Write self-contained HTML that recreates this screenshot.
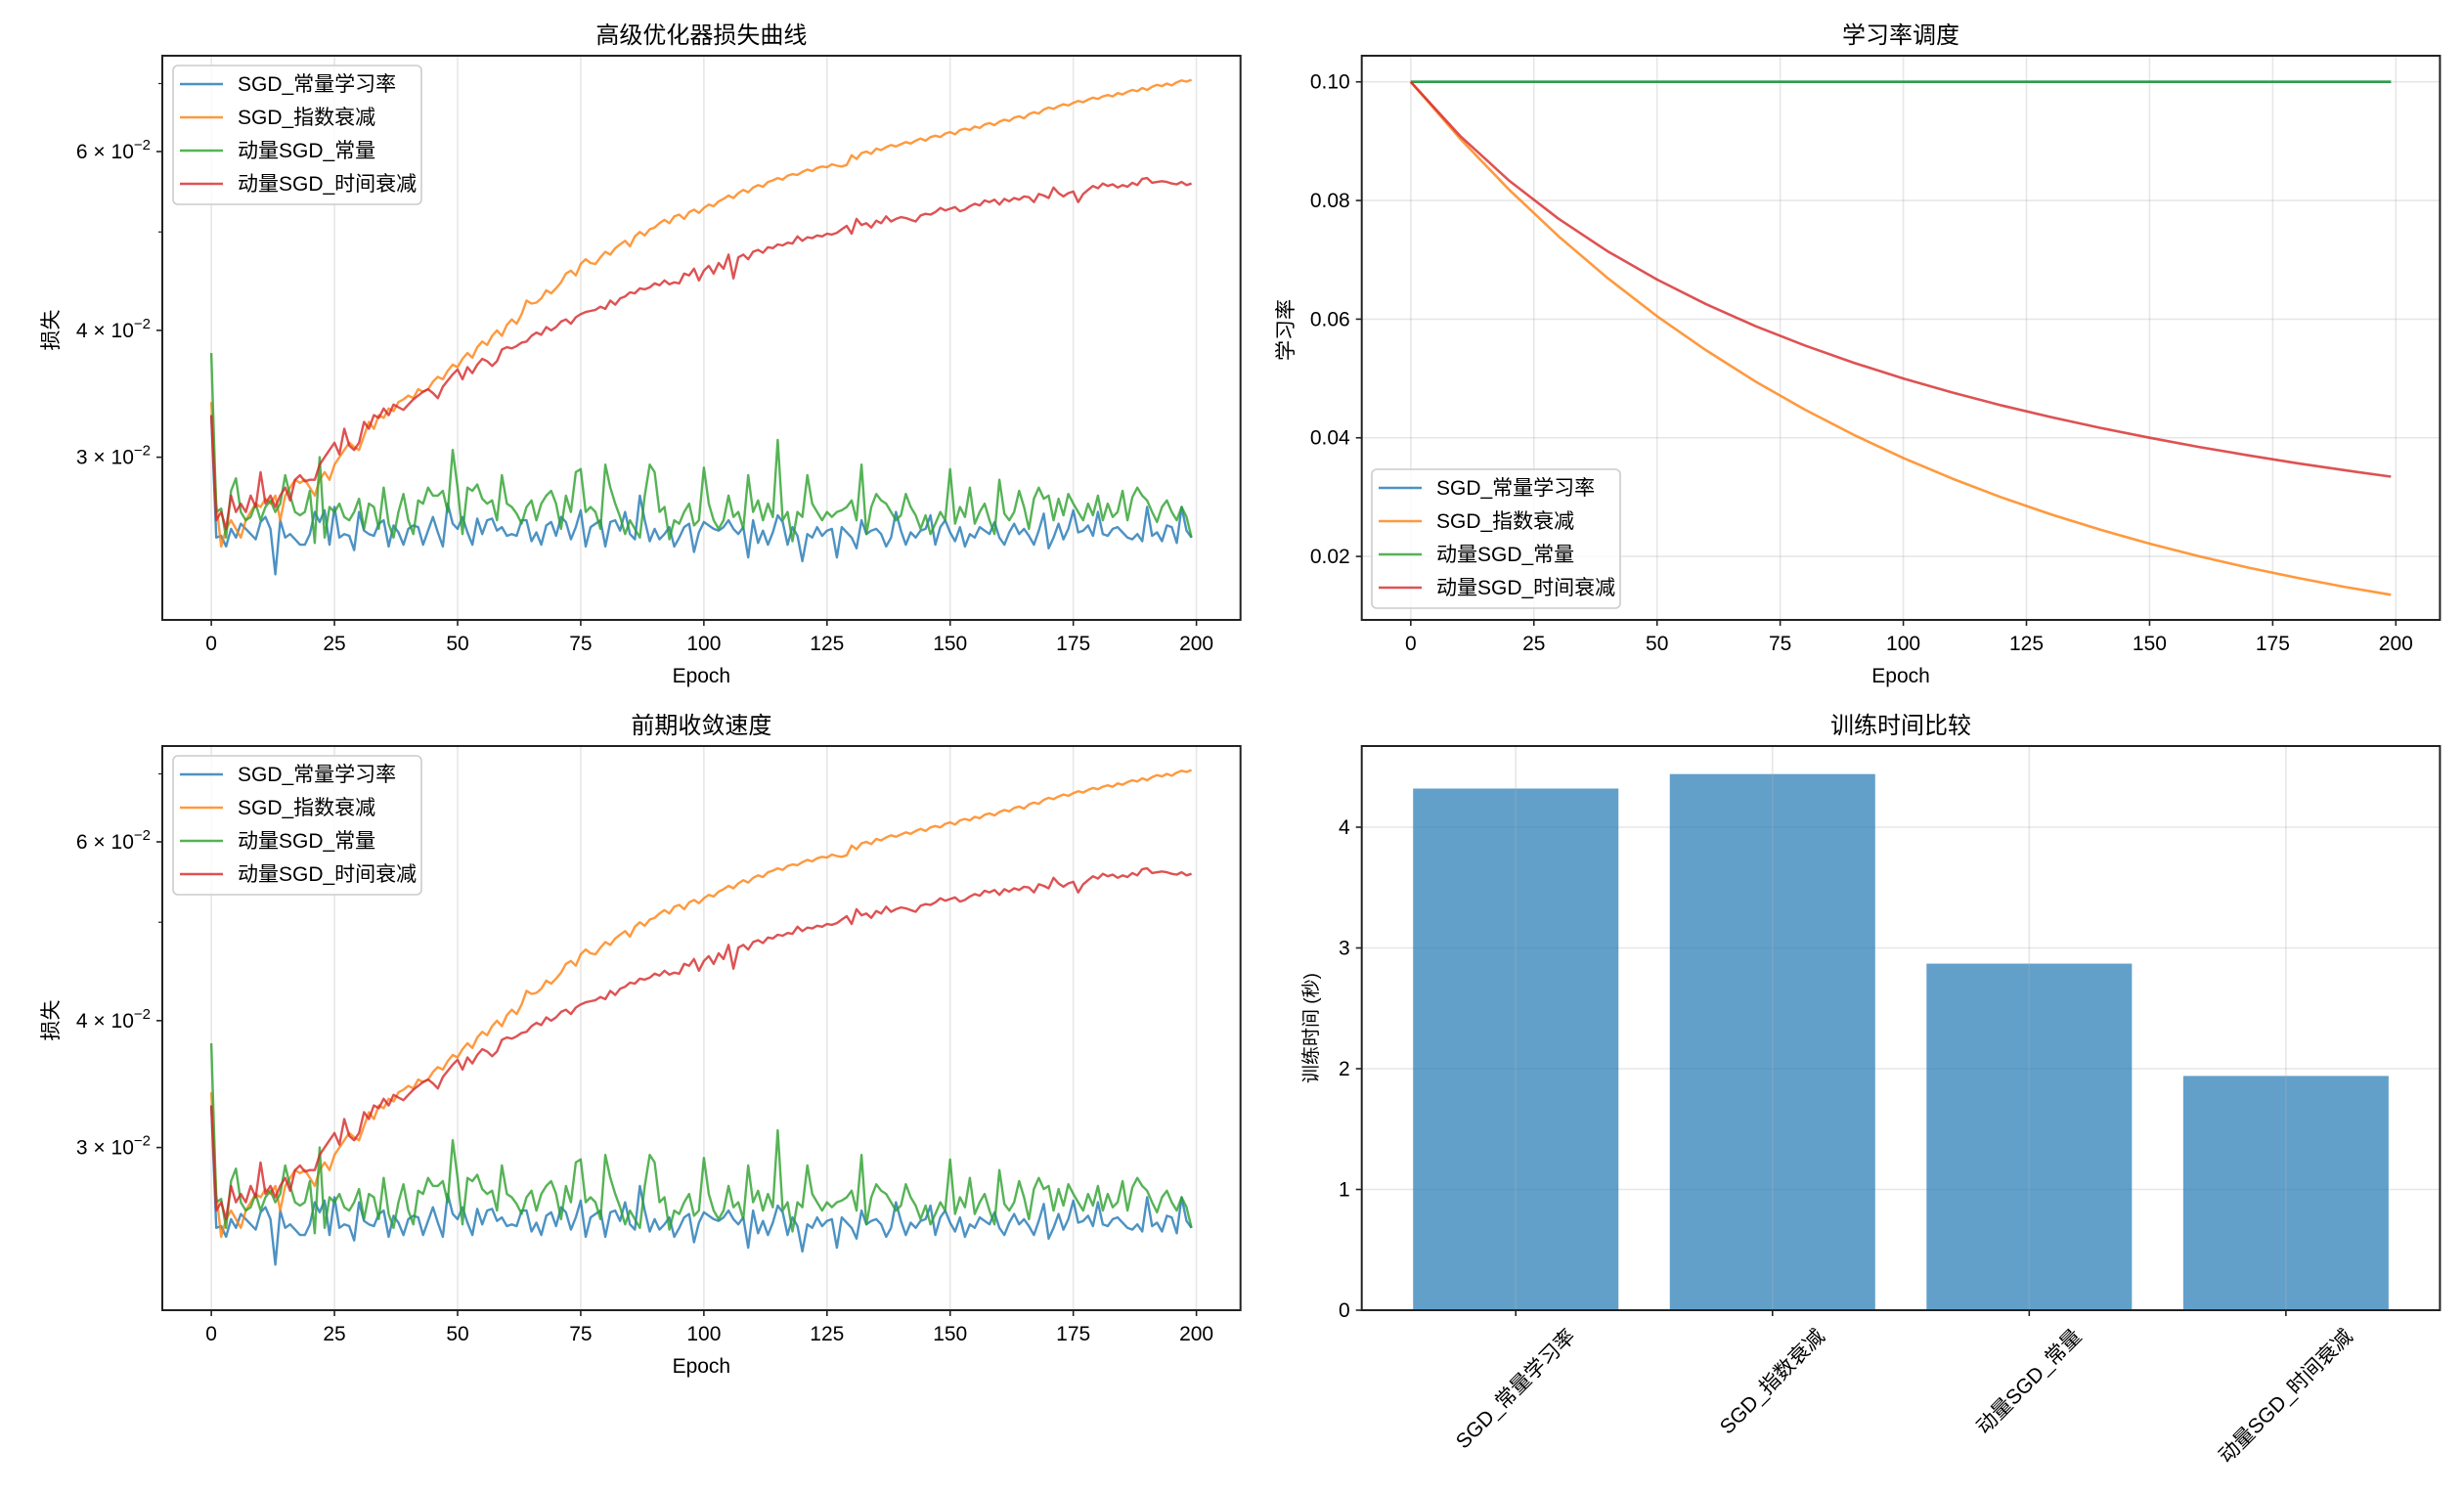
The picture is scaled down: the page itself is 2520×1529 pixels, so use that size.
<!DOCTYPE html>
<html><head><meta charset="utf-8">
<style>
html,body{margin:0;padding:0;background:#fff;}
svg text{font-family:"Liberation Sans","Noto Sans CJK SC",sans-serif;fill:#000;}
</style></head>
<body>
<svg id="fig" xmlns="http://www.w3.org/2000/svg" width="2520" height="1524" viewBox="0 0 2520 1524"></svg>
<script>
// ---- data ----
const epochTicks = [0,25,50,75,100,125,150,175,200];
const seriesNames = ["SGD_常量学习率","SGD_指数衰减","动量SGD_常量","动量SGD_时间衰减"];
const colors = ["#1f77b4","#ff7f0e","#2ca02c","#d62728"];
// loss values (x1e-3), epoch 0..199
const lossSgdConst = [33.0,25.0,25.1,24.5,25.5,25.0,25.8,25.5,25.2,24.9,
25.9,26.2,25.5,23.0,26.0,25.0,25.2,24.9,24.6,24.6,
25.2,26.5,25.9,26.6,24.6,26.8,25.0,25.2,25.1,24.3,
26.5,25.4,25.2,25.1,25.8,26.0,24.5,25.7,25.3,24.6,
25.5,25.7,25.6,24.6,25.4,26.2,25.3,24.5,27.0,25.8,
25.5,26.2,25.3,24.6,26.1,25.2,26.0,26.1,25.4,25.6,
25.1,25.2,25.1,26.0,26.0,24.8,25.3,24.6,25.7,25.9,
25.1,26.2,25.9,24.9,25.6,26.6,24.5,25.6,25.8,26.0,
24.5,25.9,26.0,25.4,26.5,25.2,24.9,27.5,26.0,24.8,
25.5,24.9,25.2,25.6,24.5,25.0,25.6,25.8,24.2,25.3,
25.9,25.7,25.5,25.4,25.6,26.0,25.5,25.2,25.6,23.9,
26.0,24.7,25.4,24.6,25.3,26.3,25.9,24.6,25.6,25.1,
23.7,25.2,25.0,25.6,25.1,25.4,25.5,23.9,25.6,25.3,
25.0,24.4,26.0,25.2,25.4,25.5,25.2,24.5,25.0,26.5,
25.4,24.6,25.3,25.0,25.4,25.5,26.3,24.6,25.6,26.0,
25.3,24.8,25.6,24.5,25.2,25.0,25.6,25.4,25.2,25.9,
25.0,24.6,25.3,25.8,25.2,25.5,25.1,24.6,25.4,26.4,
24.4,25.0,25.8,24.9,25.5,26.6,25.3,25.4,25.7,25.1,
26.5,25.2,25.1,25.5,25.6,25.3,25.0,24.9,25.2,24.8,
26.8,25.1,25.3,24.8,25.7,25.6,24.7,26.8,25.4,25.0];
const lossSgdExp = [34.0,27.0,24.5,25.5,26.0,25.5,25.0,26.0,26.5,27.0,
26.8,27.3,27.0,27.5,26.0,27.5,28.0,28.5,28.3,28.5,
28.0,27.5,28.5,29.0,28.5,29.5,30.0,30.5,31.0,30.7,
30.5,31.5,32.5,32.0,33.0,32.8,33.5,33.3,34.0,34.2,
34.5,34.3,35.0,34.8,35.0,35.6,36.0,35.8,36.5,37.0,
36.8,37.5,38.0,37.6,38.5,39.0,38.7,39.5,40.0,39.5,
40.5,41.0,40.6,41.5,42.8,42.5,42.6,43.0,43.8,43.5,
44.0,44.6,45.5,45.8,45.3,46.5,47.0,46.6,46.5,47.2,
47.8,47.5,48.2,48.6,49.0,48.4,49.5,50.0,49.6,50.3,
50.5,51.0,51.4,51.0,51.8,52.0,51.5,52.3,52.6,52.2,
52.8,53.2,53.0,53.6,53.9,54.3,54.0,54.6,55.0,54.7,
55.3,55.6,55.4,56.0,56.2,56.5,56.3,56.8,57.0,56.9,
57.3,57.6,57.4,57.8,58.0,57.9,58.3,58.1,58.0,58.2,
59.5,59.0,59.8,60.0,59.7,60.4,60.2,60.6,60.9,60.7,
61.0,61.3,61.1,61.5,61.8,61.5,62.0,62.2,62.0,62.5,
62.7,62.4,63.0,63.2,63.0,63.5,63.3,63.8,64.0,63.7,
64.2,64.5,64.3,64.8,65.0,64.7,65.3,65.6,65.4,66.0,
66.3,66.1,66.5,66.8,66.6,67.0,67.3,67.1,67.5,67.8,
67.6,68.0,68.2,68.0,68.5,68.3,68.7,69.0,68.8,69.3,
69.0,69.5,69.8,69.6,70.0,69.7,70.2,70.5,70.3,70.6];
const lossMomConst = [38.0,26.5,26.7,25.0,27.8,28.6,26.5,26.0,26.2,27.0,
26.0,26.8,27.2,26.5,27.0,28.8,27.5,26.5,26.3,26.5,
27.8,24.7,30.0,25.0,26.8,26.5,27.0,26.2,26.0,26.5,
27.3,25.5,27.0,26.8,25.5,28.0,25.8,25.0,26.5,27.6,
26.0,25.2,27.2,27.0,28.0,27.5,27.5,27.8,26.5,30.5,
28.0,25.2,28.0,27.8,28.2,27.3,27.0,27.2,26.0,28.8,
27.0,26.8,26.4,25.8,26.8,27.2,26.0,27.0,27.5,27.8,
27.0,25.5,27.5,26.5,29.0,29.2,26.5,26.8,26.5,25.5,
29.5,28.0,27.0,26.2,25.2,26.0,25.5,25.0,27.5,29.5,
29.0,26.5,26.8,24.9,26.0,25.8,26.5,27.0,25.7,26.0,
29.3,27.0,26.0,25.5,26.0,27.5,26.2,26.5,25.5,28.8,
26.5,27.2,26.0,27.0,26.2,31.2,26.0,26.5,24.8,26.5,
26.2,28.8,27.0,26.5,26.0,26.5,26.2,26.5,26.6,26.8,
27.2,26.0,29.5,25.2,26.8,27.6,27.2,27.0,26.5,26.0,
26.3,27.6,26.8,26.3,25.5,26.3,25.2,25.8,26.5,26.0,
29.2,25.8,26.8,26.2,28.0,25.8,26.5,27.0,26.0,25.2,
28.5,26.4,26.0,26.5,27.8,26.8,25.5,27.3,28.0,27.3,
27.5,26.0,27.3,26.3,27.6,27.0,26.5,26.0,27.0,26.3,
27.5,26.0,27.0,26.2,26.5,27.8,26.0,27.4,28.0,27.5,
27.2,26.5,25.9,26.8,27.2,26.5,26.0,26.8,26.2,25.0];
const lossMomTime = [33.0,26.0,26.5,25.5,27.5,26.5,27.0,26.5,27.5,26.8,
29.0,27.0,27.5,26.8,27.5,28.0,27.2,28.5,28.8,28.4,
28.5,28.5,29.5,30.0,30.5,31.0,30.2,32.0,30.8,30.5,
31.0,32.5,32.0,33.0,32.8,33.5,33.0,33.8,33.6,33.4,
33.8,34.2,34.5,34.8,35.0,34.7,34.3,35.2,35.7,36.2,
36.6,35.8,36.8,36.3,37.0,37.5,37.3,36.9,37.3,38.3,
38.5,38.4,38.6,38.9,39.0,39.5,39.8,39.6,40.3,40.0,
40.3,40.8,41.0,40.6,41.2,41.5,41.7,41.8,41.9,42.2,
42.0,42.8,42.4,43.0,43.2,43.6,43.5,44.0,43.9,44.1,
44.5,44.3,44.8,44.4,44.6,44.5,45.5,45.3,46.0,44.8,
45.8,46.3,45.5,46.6,46.0,47.5,45.0,47.2,47.5,47.0,
47.8,48.0,47.7,48.3,48.2,48.6,48.5,48.8,48.7,49.5,
49.0,49.4,49.3,49.6,49.5,49.8,49.7,49.9,50.3,50.7,
49.8,51.5,50.8,51.0,50.5,51.3,51.0,51.8,51.2,51.5,
51.7,51.6,51.4,51.2,51.9,52.1,52.0,52.3,52.8,52.5,
52.7,52.9,52.4,52.6,53.0,53.3,53.1,53.7,53.5,53.8,
53.2,53.9,53.6,54.0,53.8,54.2,54.1,53.5,54.5,54.3,
54.0,55.3,54.6,54.2,54.6,54.8,53.5,54.5,55.0,55.5,
55.2,55.8,55.5,55.7,55.3,55.6,55.4,55.9,55.6,56.4,
56.5,55.9,56.0,56.1,56.0,55.8,55.7,56.0,55.6,55.8];
const lossTickVals = [0.03,0.04,0.06];
const lossTickMant = ["3","4","6"];
const lossMinorVals = [0.05,0.07];
// learning rate schedule sampled every 10 epochs
const lrEpochs = [0,10,20,30,40,50,60,70,80,90,100,110,120,130,140,150,160,170,180,190,199];
const lrConst = [0.1,0.1,0.1,0.1,0.1,0.1,0.1,0.1,0.1,0.1,0.1,0.1,0.1,0.1,0.1,0.1,0.1,0.1,0.1,0.1,0.1];
const lrExp = [0.1,0.09044,0.08179,0.07397,0.0669,0.0605,0.05472,0.04948,0.04475,0.04047,0.0366,0.0331,0.02994,0.02708,0.02449,0.02215,0.02003,0.01811,0.01638,0.01481,0.01353];
const lrMomConst = [0.1,0.1,0.1,0.1,0.1,0.1,0.1,0.1,0.1,0.1,0.1,0.1,0.1,0.1,0.1,0.1,0.1,0.1,0.1,0.1,0.1];
const lrTime = [0.1,0.09091,0.08333,0.07692,0.07143,0.06667,0.0625,0.05882,0.05556,0.05263,0.05,0.04762,0.04545,0.04348,0.04167,0.04,0.03846,0.03704,0.03571,0.03448,0.03344];
const lrTicks = [0.02,0.04,0.06,0.08,0.10];
const lrTickLabels = ["0.02","0.04","0.06","0.08","0.10"];
const barCats = ["SGD_常量学习率","SGD_指数衰减","动量SGD_常量","动量SGD_时间衰减"];
const barVals = [4.32,4.44,2.87,1.94];
const barTicks = [0,1,2,3,4];

// ---- drawing ----
const NS="http://www.w3.org/2000/svg";
const svg=document.getElementById('fig');
function mk(tag,attrs,parent,text){const e=document.createElementNS(NS,tag);for(const k in attrs)e.setAttribute(k,attrs[k]);if(text!==undefined)e.textContent=text;(parent||svg).appendChild(e);return e;}

const AX_W=1102.7, AX_H=577, FS=21;
function epochX(x0){return e=>x0+(e+9.95)/218.9*AX_W;}

function frame(g,x0,y0){
  const r=mk('rect',{x:x0,y:y0,width:AX_W,height:AX_H,fill:'none',stroke:'#222','stroke-width':2},g);
  
  
}
function title(g,cx,y,txt){
  const t=mk('text',{x:cx,y:y,'text-anchor':'middle','font-size':24},g,txt);
  
  
}
function xEpochAxis(g,x0,y0,X){
  for(const e of epochTicks){
    const x=X(e);
    const gl=mk('line',{x1:x,x2:x,y1:y0,y2:y0+AX_H,stroke:'#b0b0b0','stroke-opacity':0.3,'stroke-width':1.6},g);
    
    
    mk('line',{x1:x,x2:x,y1:y0+AX_H,y2:y0+AX_H+6,stroke:'#222','stroke-width':1.6},g);
    const t=mk('text',{x:x,y:y0+AX_H+31,'text-anchor':'middle','font-size':FS},g,String(e));
    
    
  }
  const xl=mk('text',{x:x0+AX_W/2,y:y0+AX_H+64,'text-anchor':'middle','font-size':FS},g,'Epoch');
  
  
}
function legend(g,x,y){
  const box=mk('rect',{x:x,y:y,width:254,height:142,rx:5,fill:'#fff','fill-opacity':0.8,stroke:'#cccccc','stroke-width':1.6},g);
  
  
  seriesNames.forEach((n,i)=>{
    const yy=y+19+i*34;
    const l=mk('line',{x1:x+7,x2:x+51,y1:yy,y2:yy,stroke:colors[i],'stroke-width':2.4,'stroke-opacity':0.8},g);
    
    
    const t=mk('text',{x:x+66,y:yy+7,'font-size':FS},g,n);
    
    
  });
}
function lossPanel(y0,ttl,pname){
  const g=mk('g',{});
  
  
  const x0=166, X=epochX(x0);
  const L0=Math.log(0.06), PX=451, Y6=y0+98;
  const Y=v=>Y6-(Math.log(v)-L0)*PX;
  xEpochAxis(g,x0,y0,X);
  const clip=mk('clipPath',{id:'clip'+pname},g);
  mk('rect',{x:x0,y:y0,width:AX_W,height:AX_H},clip);
  const data=[lossSgdConst,lossSgdExp,lossMomConst,lossMomTime];
  data.forEach((arr,i)=>{
    const pts=arr.map((v,e)=>X(e).toFixed(1)+','+Y(v/1000).toFixed(1)).join(' ');
    const p=mk('polyline',{points:pts,fill:'none',stroke:colors[i],'stroke-width':2.4,'stroke-opacity':0.8,'stroke-linejoin':'round','clip-path':'url(#clip'+pname+')'},g);
    
    
  });
  lossTickVals.forEach((v,i)=>{
    const y=Y(v);
    mk('line',{x1:x0-6,x2:x0,y1:y,y2:y,stroke:'#222','stroke-width':1.6},g);
    const t=mk('text',{x:x0-12,y:y+7,'text-anchor':'end','font-size':FS},g);
    
    
    mk('tspan',{},t,lossTickMant[i]+' × 10');
    mk('tspan',{dy:-9,'font-size':15},t,'−2');
  });
  lossMinorVals.forEach(v=>{const y=Y(v);mk('line',{x1:x0-4,x2:x0,y1:y,y2:y,stroke:'#222','stroke-width':1.2},g);});
  frame(g,x0,y0);
  legend(g,177,y0+10);
  title(g,x0+AX_W/2,y0-13,ttl);
  const yl=mk('text',{x:0,y:0,'text-anchor':'middle','font-size':FS,transform:`translate(59,${y0+AX_H/2-8}) rotate(-90)`},g,'损失');
  
  
}
lossPanel(57,'高级优化器损失曲线','loss-panel-top');
lossPanel(763,'前期收敛速度','loss-panel-bottom');

// LR panel
(function(){
  const g=mk('g',{});
  
  
  const x0=1392.7,y0=57,X=epochX(x0);
  const Y=v=>y0+AX_H-(v-0.0093)*6067;
  lrTicks.forEach((v,i)=>{
    const y=Y(v);
    const gl=mk('line',{x1:x0,x2:x0+AX_W,y1:y,y2:y,stroke:'#b0b0b0','stroke-opacity':0.3,'stroke-width':1.6},g);
    
    
    mk('line',{x1:x0-6,x2:x0,y1:y,y2:y,stroke:'#222','stroke-width':1.6},g);
    const t=mk('text',{x:x0-12,y:y+7,'text-anchor':'end','font-size':FS},g,lrTickLabels[i]);
    
    
  });
  xEpochAxis(g,x0,y0,X);
  [lrConst,lrExp,lrMomConst,lrTime].forEach((arr,i)=>{
    const pts=arr.map((v,k)=>X(lrEpochs[k]).toFixed(1)+','+Y(v).toFixed(1)).join(' ');
    const p=mk('polyline',{points:pts,fill:'none',stroke:colors[i],'stroke-width':2.6,'stroke-opacity':0.8,'stroke-linejoin':'round'},g);
    
    
  });
  frame(g,x0,y0);
  legend(g,1403,y0+423);
  title(g,x0+AX_W/2,y0-13,'学习率调度');
  const yl=mk('text',{x:0,y:0,'text-anchor':'middle','font-size':FS,transform:`translate(1322,${y0+AX_H/2-8}) rotate(-90)`},g,'学习率');
  
  
})();

// Bar panel
(function(){
  const g=mk('g',{});
  
  
  const x0=1392.7,y0=763,W=AX_W;
  const X=i=>x0+(i+0.6)/4.2*W;
  const Y=v=>y0+AX_H-v*123.5;
  barTicks.forEach(v=>{
    const y=Y(v);
    const gl=mk('line',{x1:x0,x2:x0+W,y1:y,y2:y,stroke:'#b0b0b0','stroke-opacity':0.3,'stroke-width':1.6},g);
    
    
    mk('line',{x1:x0-6,x2:x0,y1:y,y2:y,stroke:'#222','stroke-width':1.6},g);
    const t=mk('text',{x:x0-12,y:y+7,'text-anchor':'end','font-size':FS},g,String(v));
    
    
  });
  const bw=0.8/4.2*W;
  barVals.forEach((v,i)=>{
    const b=mk('rect',{x:X(i)-bw/2,y:Y(v),width:bw,height:Y(0)-Y(v),fill:'#1f77b4','fill-opacity':0.7},g);
    
    
  });
  barCats.forEach((c,i)=>{
    const x=X(i);
    const gl=mk('line',{x1:x,x2:x,y1:y0,y2:y0+AX_H,stroke:'#b0b0b0','stroke-opacity':0.3,'stroke-width':1.6},g);
    
    
    mk('line',{x1:x,x2:x,y1:y0+AX_H,y2:y0+AX_H+6,stroke:'#222','stroke-width':1.6},g);
    const t=mk('text',{x:0,y:0,'text-anchor':'middle','dominant-baseline':'central','font-size':FS},g,c);
    
    
    let L=150;
    try{L=t.getComputedTextLength()||150;}catch(err){}
    const cy=y0+AX_H+16+(L+FS)*0.7071/2;
    t.setAttribute('transform',`translate(${x},${cy}) rotate(-45)`);
  });
  const f=mk('rect',{x:x0,y:y0,width:W,height:AX_H,fill:'none',stroke:'#222','stroke-width':2},g);
  
  
  title(g,x0+W/2,y0-13,'训练时间比较');
  const yl=mk('text',{x:0,y:0,'text-anchor':'middle','font-size':19,transform:`translate(1347,${y0+AX_H/2}) rotate(-90)`},g,'训练时间 (秒)');
  
  
})();
</script>
</body></html>
